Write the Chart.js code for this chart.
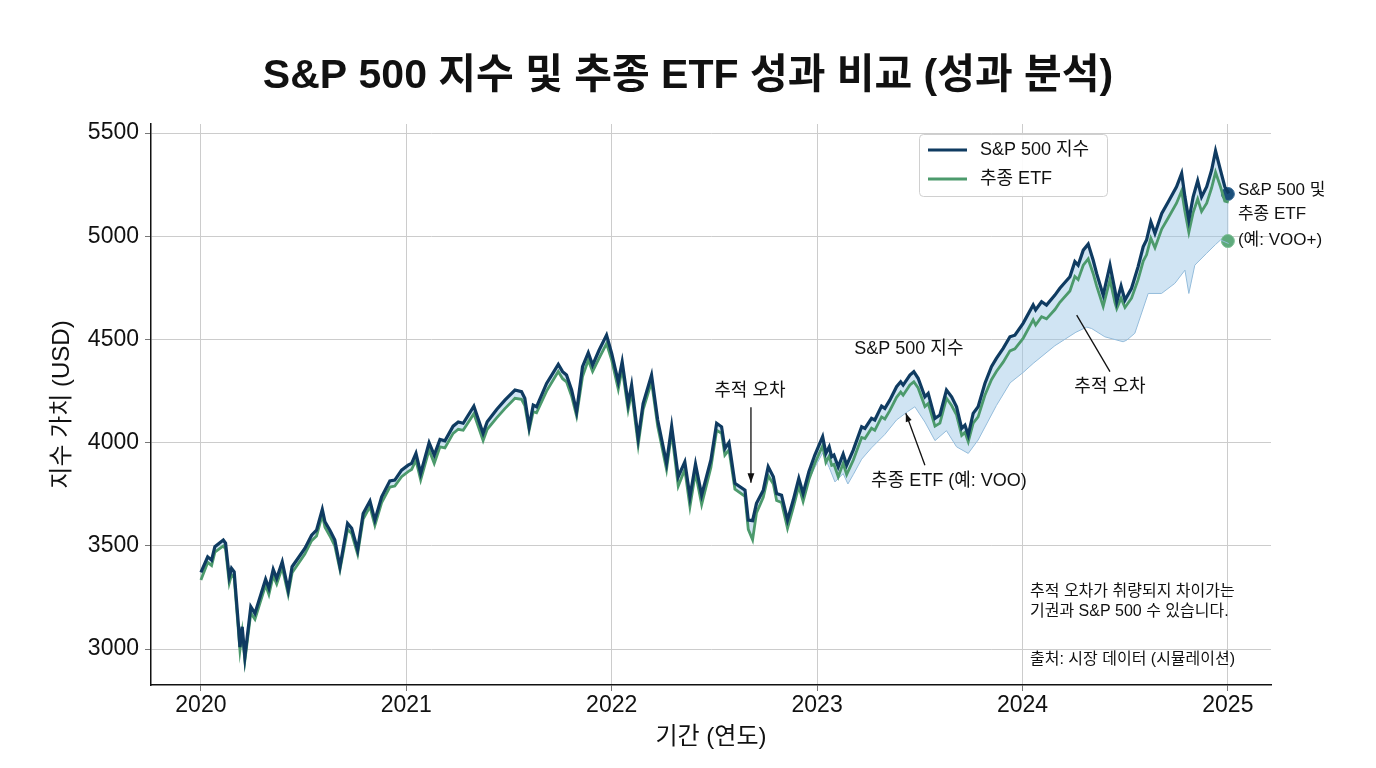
<!DOCTYPE html>
<html lang="ko">
<head>
<meta charset="utf-8">
<title>S&amp;P 500 지수 및 추종 ETF 성과 비교</title>
<script src="https://cdn.jsdelivr.net/npm/chart.js@4.4.1/dist/chart.umd.min.js"></script>
<style>
  html, body { margin: 0; padding: 0; background: #fff; }
  #wrap { width: 1376px; height: 768px; position: relative; }
</style>
</head>
<body>
<div id="wrap"><canvas id="perfChart"></canvas></div>
<script>
// S&P 500 vs tracking ETF, 2020-2025

const dates = [
  2020.000, 2020.033, 2020.052, 2020.068, 2020.109, 2020.120, 2020.138, 2020.149, 2020.162, 2020.182,
  2020.190, 2020.201, 2020.214, 2020.243, 2020.263, 2020.315, 2020.331, 2020.352, 2020.369, 2020.396,
  2020.425, 2020.444, 2020.506, 2020.539, 2020.563, 2020.591, 2020.604, 2020.628, 2020.652, 2020.677,
  2020.714, 2020.734, 2020.763, 2020.790, 2020.823, 2020.847, 2020.880, 2020.920, 2020.944, 2020.977,
  2021.009,
  2021.026, 2021.047, 2021.070, 2021.111, 2021.136, 2021.164, 2021.188, 2021.228, 2021.253, 2021.277,
  2021.329, 2021.374, 2021.394, 2021.440, 2021.480, 2021.529, 2021.561, 2021.577, 2021.598, 2021.618,
  2021.634, 2021.683, 2021.740, 2021.761, 2021.780, 2021.805, 2021.829, 2021.858, 2021.886, 2021.907,
  2021.939, 2021.975,
  2022.000, 2022.032, 2022.051, 2022.080, 2022.097, 2022.129, 2022.153, 2022.194, 2022.224, 2022.267,
  2022.292, 2022.324, 2022.356, 2022.381, 2022.408, 2022.438, 2022.483, 2022.511, 2022.535, 2022.551,
  2022.571, 2022.600, 2022.649, 2022.665, 2022.686, 2022.705, 2022.738, 2022.762, 2022.787, 2022.803,
  2022.827, 2022.856, 2022.884, 2022.911, 2022.932, 2022.960, 2022.989,
  2023.027, 2023.043, 2023.059, 2023.071, 2023.082, 2023.103, 2023.127, 2023.144, 2023.176, 2023.217,
  2023.233, 2023.265, 2023.281, 2023.314, 2023.330, 2023.354, 2023.387, 2023.407, 2023.419, 2023.452,
  2023.471, 2023.492, 2023.525, 2023.541, 2023.574, 2023.598, 2023.630, 2023.655, 2023.679, 2023.704,
  2023.720, 2023.736, 2023.760, 2023.784, 2023.817, 2023.849, 2023.873, 2023.906, 2023.939, 2023.963,
  2024.003,
  2024.052, 2024.064, 2024.093, 2024.117, 2024.158, 2024.182, 2024.231, 2024.255, 2024.271, 2024.296,
  2024.320, 2024.344, 2024.361, 2024.393, 2024.426, 2024.450, 2024.459, 2024.480, 2024.499, 2024.531,
  2024.563, 2024.588, 2024.604, 2024.625, 2024.645, 2024.678, 2024.710, 2024.750, 2024.775, 2024.791,
  2024.810, 2024.831, 2024.853, 2024.872, 2024.897, 2024.921, 2024.940, 2024.964, 2024.985, 2025.004
];

const spx = [
  3372, 3447, 3431, 3496, 3528, 3513, 3350, 3391, 3374, 3124,
  3010, 3108, 2963, 3205, 3173, 3338, 3294, 3386, 3343, 3423,
  3286, 3399, 3488, 3552, 3576, 3677, 3617, 3576, 3528, 3399,
  3609, 3585, 3480, 3657, 3717, 3625, 3738, 3815, 3819, 3867,
  3891,
  3900, 3948, 3851, 4000, 3940, 4016, 4009, 4080, 4100, 4094,
  4177, 4045, 4101, 4161, 4206, 4255, 4247, 4215, 4077, 4182,
  4174, 4287, 4379, 4344, 4328, 4255, 4150, 4368, 4436, 4376,
  4449, 4521,
  4433, 4295, 4392, 4190, 4279, 4021, 4190, 4328, 4110, 3900,
  4080, 3835, 3907, 3738, 3896, 3746, 3916, 4094, 4077, 3972,
  4001, 3803, 3770, 3625, 3622, 3706, 3770, 3883, 3835, 3754,
  3746, 3625, 3722, 3827, 3754, 3859, 3940,
  4029, 3948, 3980, 3932, 3940, 3883, 3945, 3891, 3964, 4077,
  4069, 4118, 4110, 4177, 4166, 4206, 4271, 4295, 4279, 4328,
  4344, 4312, 4222, 4239, 4118, 4134, 4255, 4222, 4174, 4069,
  4085, 4037, 4142, 4174, 4287, 4368, 4408, 4457, 4513, 4521,
  4578,
  4667, 4643, 4683, 4667, 4715, 4748, 4804, 4877, 4860, 4933,
  4962, 4885, 4820, 4715, 4860, 4739, 4683, 4759, 4691, 4748,
  4853, 4950, 4982, 5070, 5014, 5111, 5167, 5240, 5305, 5191,
  5079, 5191, 5269, 5191, 5240, 5321, 5414, 5321, 5240, 5208
];

const etf = [
  3335, 3420, 3405, 3470, 3500, 3485, 3320, 3360, 3345, 3095,
  2995, 3080, 2945, 3175, 3145, 3310, 3265, 3355, 3315, 3395,
  3265, 3370, 3460, 3525, 3548, 3650, 3590, 3548, 3500, 3385,
  3580, 3560, 3460, 3630, 3690, 3600, 3710, 3785, 3790, 3835,
  3860,
  3870, 3915, 3820, 3965, 3900, 3980, 3975, 4045, 4065, 4060,
  4140, 4010, 4065, 4120, 4165, 4215, 4210, 4180, 4060, 4150,
  4145, 4250, 4345, 4310, 4295, 4225, 4130, 4320, 4400, 4345,
  4410, 4480,
  4400, 4260, 4360, 4160, 4245, 3990, 4160, 4295, 4080, 3870,
  4050, 3790, 3870, 3690, 3855, 3700, 3880, 4060, 4045, 3940,
  3965, 3775, 3740, 3580, 3530, 3660, 3735, 3840, 3800, 3720,
  3710, 3585, 3685, 3790, 3715, 3820, 3900,
  3985, 3905, 3935, 3890, 3895, 3835, 3900, 3845, 3915, 4025,
  4020, 4070, 4060, 4125, 4115, 4155, 4220, 4245, 4230, 4280,
  4295, 4265, 4175, 4190, 4080, 4095, 4215, 4180, 4135, 4035,
  4050, 4005, 4095, 4125, 4230, 4305, 4345, 4390, 4445, 4455,
  4505,
  4595, 4570, 4610, 4600, 4645, 4680, 4735, 4805, 4790, 4860,
  4890, 4820, 4760, 4660, 4790, 4680, 4650, 4700, 4655, 4700,
  4790, 4880, 4910, 4990, 4945, 5035, 5090, 5160, 5220, 5120,
  5020, 5115, 5180, 5120, 5160, 5235, 5310, 5240, 5170, 5165
];

// lower edge of the tracking-error band (2023 onwards)
const bandDates = [
  2022.960, 2022.989, 2023.027, 2023.059, 2023.087, 2023.127, 2023.150, 2023.176, 2023.217, 2023.265,
  2023.330, 2023.387, 2023.440, 2023.476, 2023.525, 2023.574, 2023.630, 2023.679, 2023.736, 2023.784,
  2023.873, 2023.940, 2024.003, 2024.052, 2024.158, 2024.260, 2024.313, 2024.337, 2024.401, 2024.490,
  2024.508, 2024.547, 2024.612, 2024.677, 2024.742, 2024.791, 2024.810, 2024.839, 2024.896, 2024.940,
  2024.964, 2025.004
];
const bandLow = [
  3820, 3880, 3950, 3880, 3810, 3850, 3800, 3845, 3920, 3975,
  4040, 4110, 4150, 4174, 4100, 4010, 4058, 3980, 3948, 4013,
  4180, 4290, 4340, 4384, 4470, 4535, 4560, 4553, 4513, 4489,
  4497, 4530, 4723, 4723, 4772, 4836, 4723, 4860, 4917, 4960,
  4982, 4965
];

const endDate = 2025.0;
const spxEnd = 5205;
const etfEnd = 4977;

const xTicks = [2020, 2021, 2022, 2023, 2024, 2025];
const yTicks = [3000, 3500, 4000, 4500, 5000, 5500];

const NAVY = '#0f3b61';
const GREEN = '#4c9a6c';
const BAND = 'rgba(150, 196, 228, 0.45)';
const FONT = "'Liberation Sans', 'Noto Sans CJK KR', sans-serif";

const toPoints = (xs, ys) => xs.map((x, i) => ({ x, y: ys[i] }));

function arrow(ctx, x1, y1, x2, y2, head) {
  ctx.beginPath();
  ctx.moveTo(x1, y1);
  ctx.lineTo(x2, y2);
  ctx.stroke();
  if (!head) return;
  const a = Math.atan2(y2 - y1, x2 - x1);
  ctx.beginPath();
  ctx.moveTo(x2, y2);
  ctx.lineTo(x2 - head * Math.cos(a - 0.35), y2 - head * Math.sin(a - 0.35));
  ctx.lineTo(x2 - head * Math.cos(a + 0.35), y2 - head * Math.sin(a + 0.35));
  ctx.closePath();
  ctx.fill();
}

// title, legend, axis titles and the text annotations
const overlay = {
  id: 'overlay',
  afterDraw(chart) {
    const { ctx, chartArea: area } = chart;
    const px = v => chart.scales.x.getPixelForValue(v);
    const py = v => chart.scales.y.getPixelForValue(v);
    ctx.save();
    ctx.fillStyle = '#111';
    ctx.strokeStyle = '#111';
    ctx.textBaseline = 'middle';
    ctx.textAlign = 'center';

    ctx.font = `bold 41px ${FONT}`;
    ctx.fillText('S&P 500 지수 및 추종 ETF 성과 비교 (성과 분석)', 688, 77);

    // axis titles
    ctx.font = `24px ${FONT}`;
    ctx.fillText('기간 (연도)', (area.left + area.right) / 2, 737);
    ctx.save();
    ctx.translate(62, (area.top + area.bottom) / 2);
    ctx.rotate(-Math.PI / 2);
    ctx.fillText('지수 가치 (USD)', 0, 0);
    ctx.restore();

    // annotations
    ctx.font = `18px ${FONT}`;
    ctx.fillText('추적 오차', px(2022.673), py(4250));
    ctx.lineWidth = 1.3;
    arrow(ctx, px(2022.678), py(4172), px(2022.678), py(3806), 10);

    ctx.fillText('S&P 500 지수', px(2023.447), py(4453));
    ctx.fillText('추종 ETF (예: VOO)', px(2023.642), py(3814));
    arrow(ctx, px(2023.525), py(3891), px(2023.432), py(4143), 9);

    ctx.fillText('추적 오차', px(2024.426), py(4269));
    arrow(ctx, px(2024.426), py(4344), px(2024.264), py(4618), 0);

    ctx.textAlign = 'left';
    ctx.font = `17px ${FONT}`;
    ctx.fillText('S&P 500 및', px(2025.049), py(5224));
    ctx.fillText('추종 ETF', px(2025.049), py(5108));
    ctx.fillText('(예: VOO+)', px(2025.049), py(4982));

    // footnote
    ctx.font = `16px ${FONT}`;
    ctx.fillText('추적 오차가 취량되지 차이가는', 1030, 592);
    ctx.fillText('기권과 S&P 500 수 있습니다.', 1030, 612);
    ctx.fillText('출처: 시장 데이터 (시뮬레이션)', 1030, 660);

    // legend box
    ctx.fillStyle = 'rgba(255,255,255,0.92)';
    ctx.strokeStyle = '#d0d0d0';
    ctx.lineWidth = 1;
    ctx.beginPath();
    ctx.roundRect(919.5, 134.5, 188, 62, 4);
    ctx.fill();
    ctx.stroke();
    ctx.lineWidth = 3;
    ctx.strokeStyle = NAVY;
    ctx.beginPath(); ctx.moveTo(928, 150); ctx.lineTo(967, 150); ctx.stroke();
    ctx.strokeStyle = GREEN;
    ctx.beginPath(); ctx.moveTo(928, 179); ctx.lineTo(967, 179); ctx.stroke();
    ctx.fillStyle = '#111';
    ctx.font = `18px ${FONT}`;
    ctx.fillText('S&P 500 지수', 980, 150);
    ctx.fillText('추종 ETF', 980, 179);
    ctx.restore();
  }
};

new Chart(document.getElementById('perfChart'), {
  type: 'line',
  data: {
    datasets: [
      {
        label: 'S&P 500 지수',
        data: toPoints(dates, spx),
        borderColor: NAVY,
        borderWidth: 3.2,
        pointRadius: 0,
        tension: 0,
        fill: '+1',
        backgroundColor: BAND,
      },
      {
        label: '추종 ETF',
        data: toPoints(dates, etf),
        borderColor: GREEN,
        borderWidth: 2.8,
        pointRadius: 0,
        tension: 0,
        fill: false,
      },
      {
        label: '추적 오차 범위',
        data: toPoints(bandDates, bandLow),
        borderColor: '#94bcdb',
        borderWidth: 1,
        pointRadius: 0,
        tension: 0,
        fill: '-1',
        backgroundColor: BAND,
      },
      {
        label: 'S&P 500 끝',
        data: [{ x: endDate, y: spxEnd }],
        showLine: false,
        pointRadius: 6.5,
        pointBackgroundColor: '#1b4f7a',
        pointBorderColor: '#3d6f99',
        pointBorderWidth: 1,
      },
      {
        label: 'ETF 끝',
        data: [{ x: endDate, y: etfEnd }],
        showLine: false,
        pointRadius: 6.5,
        pointBackgroundColor: '#5eaa7c',
        pointBorderColor: '#7fbf97',
        pointBorderWidth: 1,
      },
    ],
  },
  options: {
    responsive: true,
    maintainAspectRatio: false,
    animation: false,
    events: [],
    layout: { padding: { left: 0, right: 105, top: 124, bottom: 0 } },
    plugins: {
      legend: { display: false },
      tooltip: { enabled: false },
      title: { display: false },
      filler: { drawTime: 'beforeDatasetsDraw' },
    },
    scales: {
      x: {
        type: 'linear',
        min: 2019.757,
        max: 2025.21,
        afterBuildTicks: s => { s.ticks = xTicks.map(v => ({ value: v })); },
        afterFit: s => { s.height = 83; },
        ticks: {
          color: '#111',
          font: { family: FONT, size: 23 },
          padding: 1,
          maxRotation: 0,
          callback: v => String(v),
        },
        grid: { color: '#cccccc', lineWidth: 1, tickLength: 6, tickColor: '#777' },
        border: { display: true, color: '#111', width: 1.5 },
      },
      y: {
        type: 'linear',
        min: 2826,
        max: 5544,
        afterBuildTicks: s => { s.ticks = yTicks.map(v => ({ value: v })); },
        afterFit: s => { s.width = 151; },
        ticks: {
          color: '#111',
          font: { family: FONT, size: 23 },
          padding: 6,
          callback: v => String(v),
        },
        grid: { color: '#cccccc', lineWidth: 1, tickLength: 6, tickColor: '#777' },
        border: { display: true, color: '#111', width: 1.5 },
      },
    },
  },
  plugins: [overlay],
});
</script>
</body>
</html>
